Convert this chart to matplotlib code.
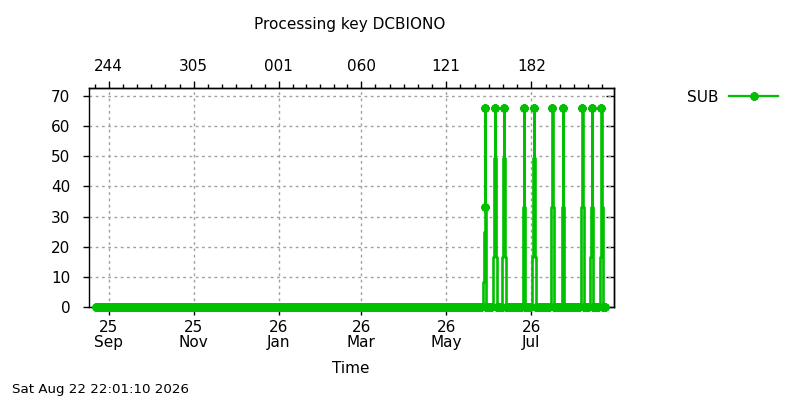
import datetime as dt
import numpy as np
import matplotlib
matplotlib.use("Agg")
import matplotlib.pyplot as plt
import matplotlib.dates as mdates
from matplotlib.lines import Line2D

# ---------------- data ----------------
title = "Processing key DCBIONO"
series_name = "SUB"
stamp = "Sat Aug 22 22:01:10 2026"

data_start = dt.datetime(2025, 8, 22, 22, 0)
data_end = dt.datetime(2026, 8, 22, 22, 0)
baseline_value = 0.0

spike_days = ["2026-05-29", "2026-06-05", "2026-06-11 12:00", "2026-06-26",
              "2026-07-03", "2026-07-16 12:00", "2026-07-23 18:00", "2026-08-07",
              "2026-08-13 12:00", "2026-08-20 12:00"]
# per-spike sample offsets (hours) and values (held until the next sample)
spike_hours = [
    [-34, -17, -8, -7, 0, 17],
    [-34, -25, -17, -8, 0, 9, 17, 25],
    [-34, -25, -17, -8, 0, 9, 17, 25],
    [-17, -8, 0, 17],
    [-34, -25, -17, -8, 0, 9, 17, 25],
    [-34, -25, -17, -8, 0, 9, 17, 25],
    [-17, -8, 0, 17],
    [-34, -25, -17, -8, 0, 9, 17, 25],
    [-34, -17, -8, 0, 17, 25],
    [-34, -17, -8, 0, 17, 25],
]
spike_values = [
    [8.25, 24.75, 33, 66, 33, 0],
    [16.5, 33, 49.5, 66, 49.5, 33, 16.5, 0],
    [16.5, 33, 49.5, 66, 49.5, 33, 16.5, 0],
    [33, 66, 33, 0],
    [16.5, 33, 49.5, 66, 49.5, 33, 16.5, 0],
    [16.5, 33, 49.5, 66, 49.5, 33, 16.5, 0],
    [33, 66, 33, 0],
    [16.5, 33, 49.5, 66, 49.5, 33, 16.5, 0],
    [16.5, 33, 66, 33, 16.5, 0],
    [16.5, 33, 66, 33, 16.5, 0],
]
# points drawn with a symbol inside spikes (besides zeros and peaks): (spike, sample)
extra_marked = [(0, 2)]

top_tick_labels = ["244", "305", "001", "060", "121", "182"]
bottom_tick_dates = ["2025-09-01", "2025-11-01", "2026-01-01",
                     "2026-03-01", "2026-05-01", "2026-07-01"]
y_ticks = [0, 10, 20, 30, 40, 50, 60, 70]

xlim = (dt.datetime(2025, 8, 17, 12), dt.datetime(2026, 8, 28, 22))
ylim = (0, 72.6)

color = "#00c000"

# ---------------- build series ----------------
centers = [np.datetime64(d) for d in spike_days]
base_t = np.arange(np.datetime64(data_start), np.datetime64(data_end) + np.timedelta64(1, "h"),
                   np.timedelta64(1, "D"))
keep = np.ones(len(base_t), bool)
for c, hrs in zip(centers, spike_hours):
    lo = c + np.timedelta64(min(hrs) - 20, "h")
    hi = c + np.timedelta64(max(hrs) + 20, "h")
    keep &= ~((base_t >= lo) & (base_t <= hi))
times = list(base_t[keep])
vals = [baseline_value] * len(times)
marks = [True] * len(times)
for i, (c, hrs, vs) in enumerate(zip(centers, spike_hours, spike_values)):
    peak = max(vs)
    for j, (h, v) in enumerate(zip(hrs, vs)):
        times.append(c + np.timedelta64(h, "h"))
        vals.append(v)
        marks.append(v == 0 or v == peak or (i, j) in extra_marked)
order = np.argsort(np.array(times))
T = np.array(times)[order].astype("datetime64[s]").astype(dt.datetime)
V = np.array(vals)[order]
M = np.array(marks)[order]

# ---------------- figure ----------------
fig = plt.figure(figsize=(8, 4), dpi=100)
ax = fig.add_axes([88.5 / 800, 93 / 400, (613.5 - 88.5) / 800, 219 / 400])

marker = (8, 2, 0)
ax.plot(T, V, color=color, lw=1.9, zorder=3, drawstyle="steps-post")
ax.plot(T[M], V[M], ls="none", marker=marker, ms=6, mew=1.9, mec=color, color=color,
        zorder=3, clip_on=False)

ax.set_xlim(*xlim)
ax.set_ylim(*ylim)

bt = [mdates.date2num(np.datetime64(d).astype(dt.datetime)) for d in bottom_tick_dates]
ax.set_xticks(bt)
ax.xaxis.set_major_formatter(mdates.DateFormatter("%y\n%b"))
minor = []
for a, b in zip(bt[:-1], bt[1:]):
    minor += [a + k * (b - a) / 6 for k in range(1, 6)]
step = (bt[-1] - bt[-2]) / 6
minor += [bt[-1] + k * step for k in range(1, 7) if bt[-1] + k * step < mdates.date2num(xlim[1])]
minor += [bt[0] - k * step for k in range(1, 3) if bt[0] - k * step > mdates.date2num(xlim[0])]
ax.set_xticks(minor, minor=True)
ax.set_yticks(y_ticks)

fs = 11
ax.tick_params(axis="x", which="major", direction="out", length=6, width=1, labelsize=fs, pad=3)
ax.tick_params(axis="x", which="minor", direction="out", length=3, width=1)
ax.tick_params(axis="y", which="major", direction="out", length=4, width=1, labelsize=fs, pad=9)
for lab in ax.get_xticklabels():
    lab.set_linespacing(1.05)

secx = ax.secondary_xaxis("top")
secx.set_xticks(bt, labels=top_tick_labels)
secx.set_xticks(minor, minor=True)
secx.tick_params(which="major", direction="out", length=5, width=1, labelsize=fs, pad=5)
secx.tick_params(which="minor", direction="out", length=3, width=1)

secy = ax.secondary_yaxis("right")
secy.set_yticks(y_ticks, labels=[""] * len(y_ticks))
secy.tick_params(direction="in", length=6, width=1)

ax.grid(True, which="major", color="#a0a0a0", lw=1, ls=(0, (2, 2.5)))
for s in list(ax.spines.values()) + list(secx.spines.values()) + list(secy.spines.values()):
    s.set_linewidth(1.0)

ax.set_xlabel("Time", fontsize=fs, labelpad=8)
fig.text(350 / 800, 1 - 24 / 400, title, ha="center", va="center", fontsize=fs)
fig.text(12 / 800, 1 - 390 / 400, stamp, ha="left", va="center", fontsize=9.6)

handle = Line2D([], [], color=color, lw=1.6, marker=marker, ms=6, mew=1.9, mec=color)
fig.legend([handle], [series_name], loc="center left", bbox_to_anchor=(687 / 800, 1 - 97 / 400),
           frameon=False, borderpad=0, borderaxespad=0, handlelength=3.2, handletextpad=0.7,
           markerfirst=False, numpoints=1, fontsize=fs)

fig.savefig("out.png", dpi=100)
